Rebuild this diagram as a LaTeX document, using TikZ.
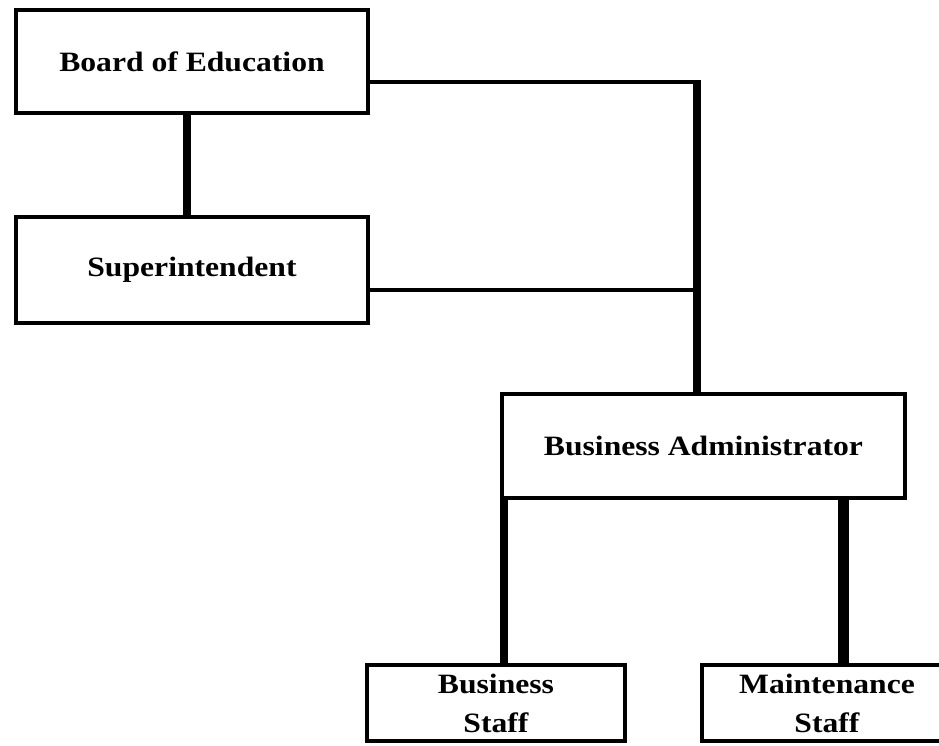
\documentclass[tikz,border=0pt]{standalone}
\usepackage{fontspec}
\newfontfamily\orgfont{Liberation Serif}[FakeStretch=1.13]
\begin{document}
\begin{tikzpicture}[x=1pt,y=1pt,
  box/.style={draw=black, line width=4pt, rectangle, inner sep=0pt, align=center,
    font=\orgfont\bfseries\fontsize{28}{39}\selectfont},
  thinline/.style={draw=black, line width=4pt},
  thickline/.style={draw=black, line width=8.5pt},
  heavyline/.style={draw=black, line width=11pt}]
\useasboundingbox (0,0) rectangle (939,-745);
\node[box, minimum width=352pt, minimum height=103pt] (board) at (192,-61.5) {Board of Education};
\node[box, minimum width=352pt, minimum height=106pt] (sup) at (192,-270) {Superintendent};
\node[box, minimum width=403pt, minimum height=104pt] (ba) at (703.5,-446) {Business Administrator};
\node[box, minimum width=258pt, minimum height=76pt] (bs) at (496,-703) {Business\\Staff};
\node[box, minimum width=250pt, minimum height=76pt] (ms) at (827,-703) {Maintenance\\Staff};
\coordinate (j1) at (697,-82);
\coordinate (j2) at (697,-290);
\draw[thickline] ([xshift=-5pt]board.south) -- ([xshift=-5pt]sup.north);
\draw[thinline] (board.east |- j1) -- (j1);
\draw[thinline] (sup.east |- j2) -- (j2);
\draw[thickline] ([yshift=2pt]j1) -- (j1 |- ba.north);
\draw[thickline] ([xshift=4pt]ba.south west) -- ([xshift=4pt]ba.south west |- bs.north);
\draw[heavyline] ([xshift=-64pt]ba.south east) -- ([xshift=-64pt]ba.south east |- ms.north);
\end{tikzpicture}
\end{document}
